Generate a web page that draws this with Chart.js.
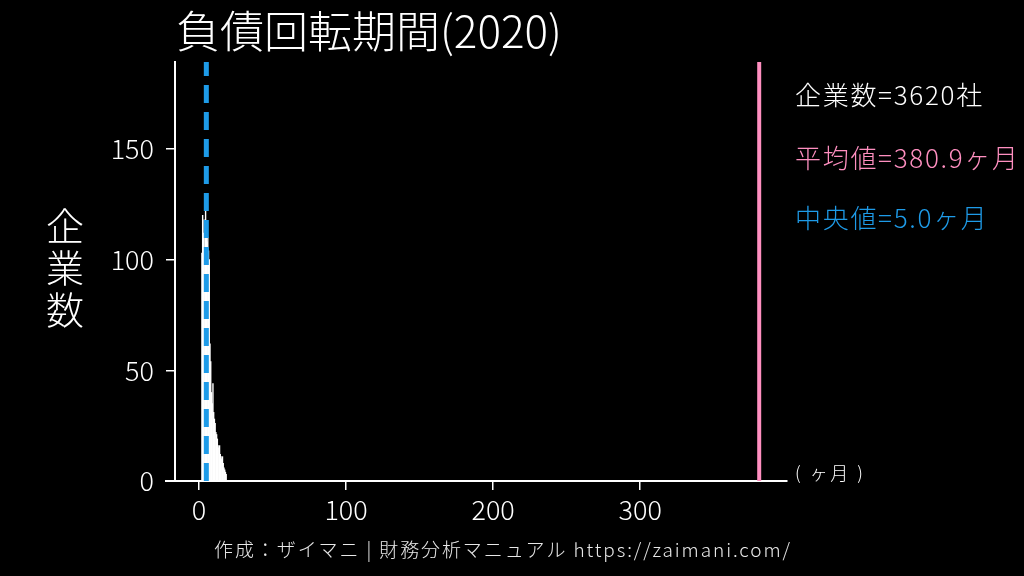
<!DOCTYPE html>
<html>
<head>
<meta charset="utf-8">
<script src="https://cdn.jsdelivr.net/npm/chart.js@4.4.1/dist/chart.umd.min.js"></script>
<style>
    html, body { margin: 0; padding: 0; background: #000; }
    canvas { display: block; }
</style>
</head>
<body>
<canvas id="chart" width="1024" height="576"></canvas>
<script>
// ヒストグラムの階級（中心値, ヶ月）
const binCenters = [
    2.0, 2.5, 3.0, 3.5, 4.0, 4.5, 5.0, 5.5, 6.0, 6.5, 7.0, 7.5,
    8.0, 8.5, 9.0, 9.5, 10.0, 10.5, 11.0, 11.5, 12.0, 12.5, 13.0, 13.5,
    14.0, 14.5, 15.0, 15.5, 16.0, 16.5, 17.0, 17.5, 18.0, 18.5
];
// 各階級の企業数
const binCounts = [
    103, 120, 112, 118, 105, 128, 115, 108, 110, 104, 100, 62,
    54, 40, 35, 44, 31, 28, 26, 22, 21, 19, 16, 15,
    16, 12, 11, 10, 11, 8, 6, 5, 4, 3
];
// 統計値
const companyCount = 3620;
const meanValue = 380.9;
const medianValue = 5.0;
// 目盛り
const xTicks = [0, 100, 200, 300];
const yTicks = [0, 50, 100, 150];

const xMin = -16.3, xMax = 399.8;
const yMin = 0, yMax = 189.3;

const PINK = '#ff8fc0';
const BLUE = '#1e9be8';
const FONT = '"Noto Sans CJK JP", "Noto Sans", sans-serif';

// 文字列の描画（タイトル・注記・軸ラベル）
const textPlugin = {
    id: 'texts',
    beforeDraw(chart) {
        const ctx = chart.ctx;
        ctx.save();
        ctx.fillStyle = '#000';
        ctx.fillRect(0, 0, chart.width, chart.height);
        ctx.restore();
    },
    afterDraw(chart) {
        const ctx = chart.ctx;
        const xs = chart.scales.x;
        ctx.save();

        // x軸の左側の延長
        ctx.strokeStyle = '#fff';
        ctx.lineWidth = 2;
        ctx.beginPath();
        ctx.moveTo(xs.getPixelForValue(-23.1), chart.chartArea.bottom);
        ctx.lineTo(chart.chartArea.left, chart.chartArea.bottom);
        ctx.stroke();

        ctx.textBaseline = 'middle';
        ctx.textAlign = 'left';

        // タイトル
        ctx.fillStyle = '#fff';
        ctx.font = '300 44px ' + FONT;
        ctx.fillText('負債回転期間(2020)', 176, 31);

        // 縦書きの軸ラベル
        ctx.font = '300 38px ' + FONT;
        ctx.textAlign = 'center';
        ['企', '業', '数'].forEach((ch, i) => {
            ctx.fillText(ch, 65, 226 + i * 42);
        });

        // 統計値の注記
        ctx.textAlign = 'left';
        ctx.font = '300 26px ' + FONT;
        ctx.letterSpacing = '1.7px';
        ctx.fillStyle = '#fff';
        ctx.fillText('企業数=' + companyCount + '社', 795, 95);
        ctx.fillStyle = PINK;
        ctx.fillText('平均値=' + meanValue.toFixed(1) + 'ヶ月', 795, 158);
        ctx.fillStyle = BLUE;
        ctx.fillText('中央値=' + medianValue.toFixed(1) + 'ヶ月', 795, 218);

        // 単位
        ctx.fillStyle = '#fff';
        ctx.font = '300 18px ' + FONT;
        ctx.letterSpacing = '2.5px';
        ctx.fillText('( ヶ月 )', 795, 473);

        // 出典
        ctx.textAlign = 'center';
        ctx.fillStyle = '#e8e8e8';
        ctx.font = '300 19px ' + FONT;
        ctx.letterSpacing = '1.9px';
        ctx.fillText('作成：ザイマニ | 財務分析マニュアル https://zaimani.com/', 503, 550);

        ctx.restore();
    }
};

const tickFont = { family: FONT, size: 27, weight: '300' };

const chart = new Chart(document.getElementById('chart'), {
    type: 'bar',
    data: {
        datasets: [
            {
                type: 'line',
                data: [{ x: medianValue, y: yMin }, { x: medianValue, y: yMax }],
                borderColor: BLUE,
                borderWidth: 5,
                borderDash: [18, 9],
                pointRadius: 0,
                order: 0
            },
            {
                type: 'line',
                data: [{ x: meanValue, y: yMin }, { x: meanValue, y: yMax }],
                borderColor: PINK,
                borderWidth: 4,
                pointRadius: 0,
                order: 1
            },
            {
                type: 'bar',
                data: binCenters.map((c, i) => ({ x: c, y: binCounts[i] })),
                backgroundColor: '#fff',
                borderWidth: 0,
                barPercentage: 1,
                categoryPercentage: 1,
                order: 2
            }
        ]
    },
    options: {
        responsive: false,
        animation: false,
        devicePixelRatio: 1,
        layout: { padding: { top: 62, right: 237, bottom: 0, left: 0 } },
        plugins: {
            legend: { display: false },
            tooltip: { enabled: false }
        },
        scales: {
            x: {
                type: 'linear',
                min: xMin,
                max: xMax,
                offset: false,
                afterFit(scale) { scale.height = 95; },
                afterBuildTicks(scale) { scale.ticks = xTicks.map(v => ({ value: v })); },
                border: { display: true, color: '#fff', width: 2 },
                grid: { display: true, offset: false, drawOnChartArea: false, drawTicks: true, tickLength: 9, color: '#fff', lineWidth: 1.5 },
                ticks: { color: '#fff', font: tickFont, padding: 4, maxRotation: 0 }
            },
            y: {
                type: 'linear',
                min: yMin,
                max: yMax,
                afterFit(scale) { scale.width = 175; },
                afterBuildTicks(scale) { scale.ticks = yTicks.map(v => ({ value: v })); },
                border: { display: true, color: '#fff', width: 2 },
                grid: { display: true, drawOnChartArea: false, drawTicks: true, tickLength: 9, color: '#fff', lineWidth: 1.5 },
                ticks: { color: '#fff', font: tickFont, padding: 12 }
            }
        }
    },
    plugins: [textPlugin]
});
</script>
</body>
</html>
